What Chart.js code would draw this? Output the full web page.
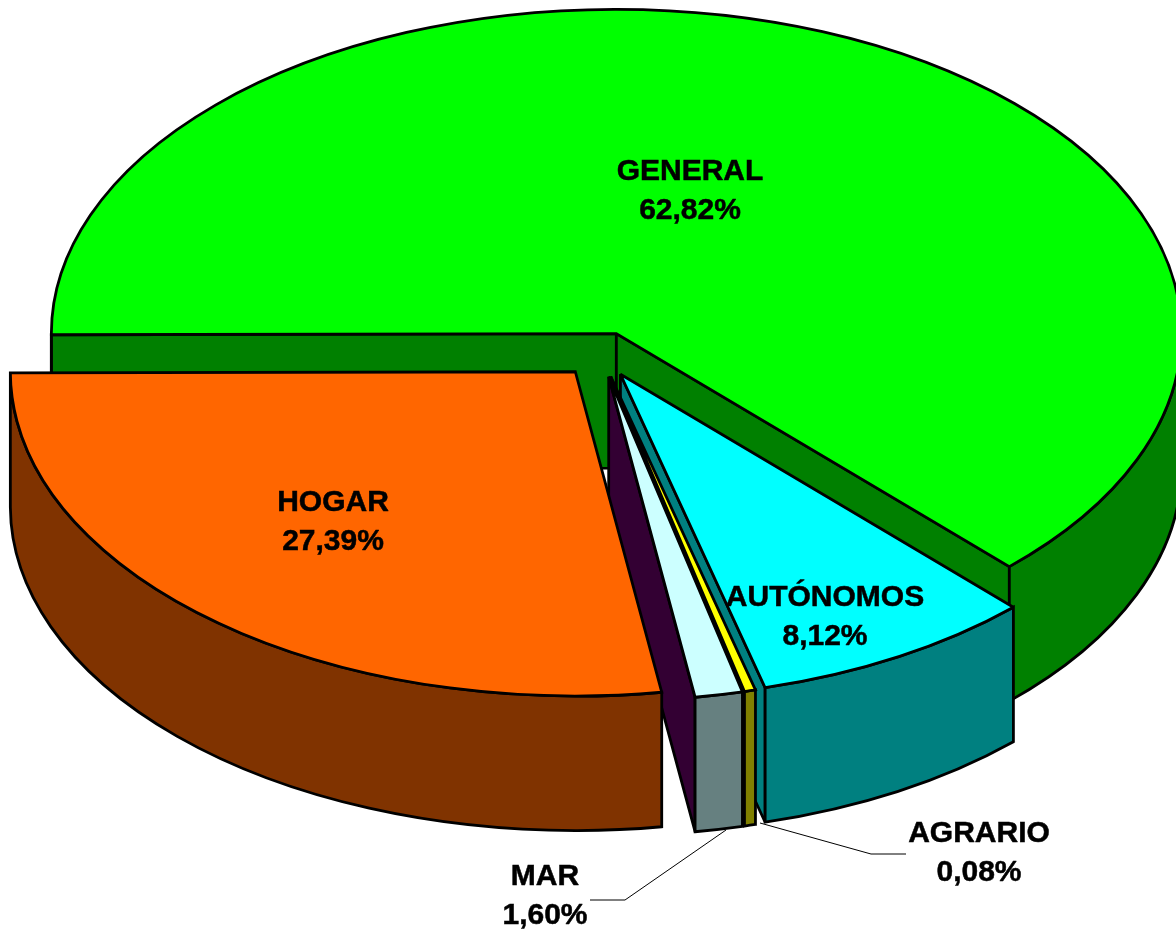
<!DOCTYPE html>
<html>
<head>
<meta charset="utf-8">
<style>
html,body{margin:0;padding:0;background:#fff;width:1176px;height:929px;overflow:hidden}
#wrap{position:relative;width:1176px;height:929px}
canvas{display:block}
</style>
<script src="https://cdn.jsdelivr.net/npm/chart.js@4/dist/chart.umd.js"></script>
</head>
<body>
<div id="wrap"><canvas id="c" width="1176" height="929"></canvas></div>
<script>
// Data, clockwise from 9 o'clock
const categories = ['GENERAL', 'AUTÓNOMOS', 'AGRARIO', 'MAR', 'HOGAR'];
const percentages = [62.82, 8.12, 0.08, 1.60, 27.39];
const valueLabels = ['62,82%', '8,12%', '0,08%', '1,60%', '27,39%'];

// Style
const topColors  = ['#00FF00', '#00FFFF', '#FFFF00', '#CCFFFF', '#FF6600'];
const wallColors = ['#008000', '#008080', '#808000', '#668080', '#803300'];
const cutColors  = ['#008000', '#008080', '#808000', '#330033', '#803300'];

// Projection of the pie
const TILT = 0.574, DEPTH = 134.5, EXPLODE = 39.5, RADIUS = 565, LINE = 2.8;
// Very thin slices are kept visible at this sweep, taken from the next slice
const MIN_SWEEP = 1.15 * Math.PI / 180;

// Text anchors and leader lines
const labelCenters = [[690, 180], [825, 606], [979, 842], [545, 885], [333, 511]];
const leaders = [
  [[760, 823], [871, 854], [906, 854]],
  [[726, 830], [625, 900], [590, 900]]
];

const TAU = Math.PI * 2;
function centreOf(arc) {
  const mid = (arc.startAngle + arc.endAngle) / 2;
  return {
    x: arc.x + Math.cos(mid) * EXPLODE,
    y: arc.y + Math.sin(mid) * EXPLODE * TILT
  };
}
function rim(arc, a) {
  const c = centreOf(arc);
  return { x: c.x + Math.cos(a) * arc.outerRadius, y: c.y + Math.sin(a) * arc.outerRadius * TILT };
}

function pen(ctx) {
  ctx.lineJoin = 'miter';
  ctx.miterLimit = 2;
  ctx.lineWidth = LINE;
  ctx.strokeStyle = '#000';
}

// Top face: the library's arc, exploded and flattened, outlined with an even pen
const baseDraw = Chart.ArcElement.prototype.draw;
Chart.ArcElement.prototype.draw = function (ctx) {
  const c = centreOf(this);
  ctx.save();
  ctx.translate(c.x, c.y);
  ctx.scale(1, TILT);
  ctx.translate(-this.x, -this.y);
  baseDraw.call(this, ctx);
  ctx.restore();
  ctx.beginPath();
  ctx.moveTo(c.x, c.y);
  ctx.ellipse(c.x, c.y, this.outerRadius, this.outerRadius * TILT, 0, this.startAngle, this.endAngle);
  ctx.closePath();
  pen(ctx);
  ctx.stroke();
};

function paint(ctx, fill) {
  ctx.fillStyle = fill;
  ctx.fill();
  pen(ctx);
  ctx.stroke();
}
function cutFace(ctx, arc, a, fill) {
  const c = centreOf(arc), p = rim(arc, a);
  ctx.beginPath();
  ctx.moveTo(c.x, c.y);
  ctx.lineTo(p.x, p.y);
  ctx.lineTo(p.x, p.y + DEPTH);
  ctx.lineTo(c.x, c.y + DEPTH);
  ctx.closePath();
  paint(ctx, fill);
}
function curvedFace(ctx, arc, a0, a1, fill) {
  const c = centreOf(arc), r = arc.outerRadius;
  ctx.beginPath();
  ctx.ellipse(c.x, c.y, r, r * TILT, 0, a0, a1);
  ctx.ellipse(c.x, c.y + DEPTH, r, r * TILT, 0, a1, a0, true);
  ctx.closePath();
  paint(ctx, fill);
}

const pie3d = {
  id: 'pie3d',
  afterDatasetUpdate(chart, args) {
    const arcs = args.meta.data;
    arcs.forEach((arc, i) => {
      const extra = MIN_SWEEP - (arc.endAngle - arc.startAngle);
      const next = arcs[i + 1];
      if (extra > 0 && next) {
        arc.endAngle += extra;
        arc.circumference += extra;
        next.startAngle += extra;
        next.circumference -= extra;
      }
    });
  },
  beforeDatasetDraw(chart, args) {
    const ctx = chart.ctx;
    ctx.save();
    args.meta.data.forEach((arc, i) => {
      // faces that turn toward the viewer
      if (Math.cos(arc.startAngle) < -1e-6) cutFace(ctx, arc, arc.startAngle, cutColors[i]);
      if (Math.cos(arc.endAngle) > 1e-6) cutFace(ctx, arc, arc.endAngle, cutColors[i]);
      for (let k = 0; k < 3; k++) {
        const a0 = Math.max(arc.startAngle, k * TAU);
        const a1 = Math.min(arc.endAngle, k * TAU + Math.PI);
        if (a1 > a0) curvedFace(ctx, arc, a0, a1, wallColors[i]);
      }
    });
    ctx.restore();
  },
  afterDatasetsDraw(chart) {
    const ctx = chart.ctx;
    ctx.save();
    ctx.strokeStyle = '#000';
    ctx.lineWidth = 1;
    leaders.forEach(line => {
      ctx.beginPath();
      line.forEach(([x, y], i) => i ? ctx.lineTo(x, y) : ctx.moveTo(x, y));
      ctx.stroke();
    });
    ctx.fillStyle = '#000';
    ctx.font = 'bold 30px "Liberation Sans", Arial, sans-serif';
    ctx.textAlign = 'center';
    ctx.textBaseline = 'alphabetic';
    ctx.lineWidth = 0.5;
    categories.forEach((name, i) => {
      const [x, y] = labelCenters[i];
      ctx.fillText(name, x, y);
      ctx.strokeText(name, x, y);
      ctx.fillText(valueLabels[i], x, y + 38.5);
      ctx.strokeText(valueLabels[i], x, y + 38.5);
    });
    ctx.restore();
  }
};

new Chart(document.getElementById('c'), {
  type: 'pie',
  data: {
    labels: categories,
    datasets: [{
      data: percentages,
      backgroundColor: topColors,
      borderWidth: 0,
      offset: 0,
      clip: false
    }]
  },
  options: {
    responsive: false,
    animation: false,
    rotation: 269.8,
    radius: RADIUS,
    layout: { padding: { left: 26, bottom: 220 } },
    events: [],
    plugins: { legend: { display: false }, tooltip: { enabled: false } }
  },
  plugins: [pie3d]
});
</script>
</body>
</html>
